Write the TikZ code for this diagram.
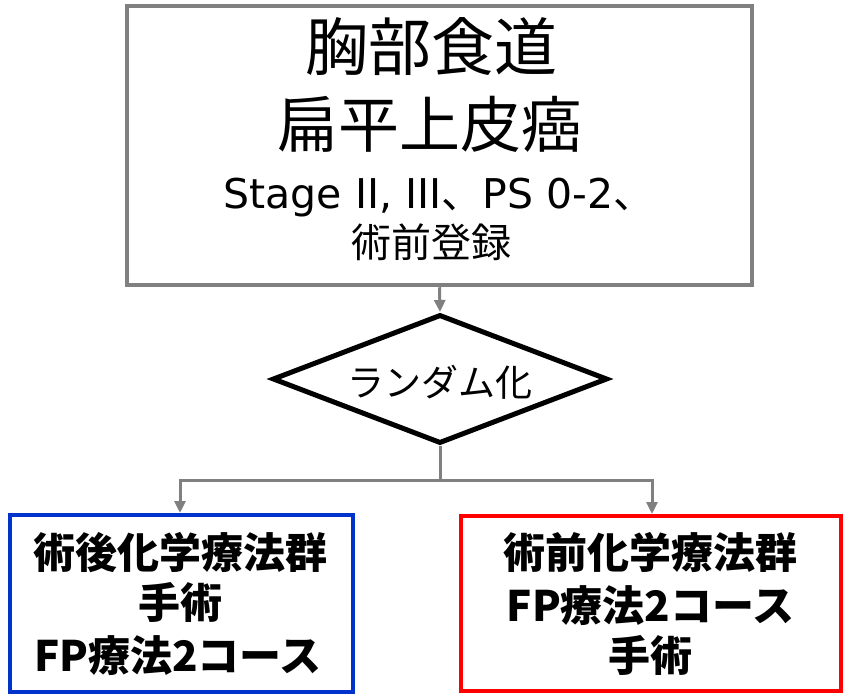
\documentclass[tikz,border=0pt]{standalone}
\usepackage{fontspec}
\setmainfont{Noto Sans CJK JP}
\newfontfamily\latinfont{DejaVu Sans}
\usetikzlibrary{shapes.geometric,arrows.meta}
\definecolor{boxgray}{RGB}{128,128,128}
\definecolor{boxblue}{RGB}{0,51,204}
\definecolor{boxred}{RGB}{255,0,0}
\tikzset{
  txt/.style={inner sep=0pt,anchor=base},
  conn/.style={draw=boxgray,line width=3pt},
  arr/.style={conn,-{Triangle[width=11pt,length=12pt]}},
}
\begin{document}
\begin{tikzpicture}[x=1pt,y=-1pt]
\useasboundingbox (0,0) rectangle (843,696);
% top box
\node[draw=boxgray,line width=4.5pt,minimum width=625pt,minimum height=279pt,inner sep=0pt] (top) at (439.5,145.5) {};
\node[txt] (t1) at (431,70) {\fontsize{63}{72}\selectfont 胸部食道};
\node[txt] (t2) at (430,147.5) {\fontsize{61}{72}\selectfont 扁平上皮癌};
\node[txt] (t3) at (439,208) {\fontsize{41}{48}\selectfont{\latinfont Stage II, III}、{\latinfont PS 0-2}、};
\node[txt] (t4) at (431,257.5) {\fontsize{40}{46}\selectfont 術前登録};
% diamond
\node[draw=black,line width=5pt,diamond,minimum width=335pt,minimum height=129pt,aspect=2.6,inner sep=0pt] (rand) at (440,379) {};
\node[txt] (rt) at (440,396) {\fontsize{37}{44}\selectfont ランダム化};
% bottom boxes
\node[draw=boxblue,line width=4pt,minimum width=343pt,minimum height=177pt,inner sep=0pt] (post) at (181.5,603.5) {};
\node[txt] (p1) at (180,568.5) {\fontsize{42}{50}\selectfont\bfseries 術後化学療法群};
\node[txt] (p2) at (180,618.5) {\fontsize{42}{50}\selectfont\bfseries 手術};
\node[txt] (p3) at (178,671) {\fontsize{42}{50}\selectfont\bfseries FP療法2コース};
\node[draw=boxred,line width=4pt,minimum width=380pt,minimum height=175pt,inner sep=0pt] (pre) at (650.5,603.5) {};
\node[txt] (q1) at (650.5,568.5) {\fontsize{42}{50}\selectfont\bfseries 術前化学療法群};
\node[txt] (q2) at (650.5,621) {\fontsize{42}{50}\selectfont\bfseries FP療法2コース};
\node[txt] (q3) at (650.5,671) {\fontsize{42}{50}\selectfont\bfseries 手術};
% connectors
\coordinate (split) at (440,480);
\draw[arr] (top.south) -- (rand.north);
\draw[conn] (rand.south) -- (split);
\draw[arr] (split) -| (180,480) -- (post.north -| 180,0);
\draw[arr] (split) -| (652,480) -- (pre.north -| 652,0);
\end{tikzpicture}
\end{document}
